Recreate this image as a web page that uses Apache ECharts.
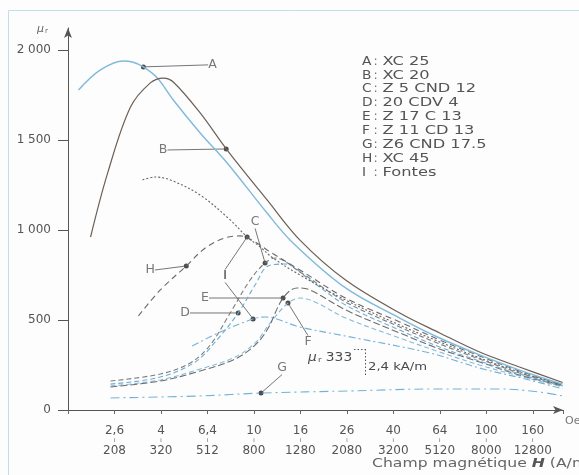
<!DOCTYPE html>
<html>
<head>
<meta charset="utf-8">
<script src="https://cdn.jsdelivr.net/npm/echarts@6/dist/echarts.min.js"></script>
<style>
  html, body { margin: 0; padding: 0; background: #fdfdfd; }
  #chart { width: 579px; height: 475px; }
</style>
</head>
<body>
<div id="chart"></div>
<script>
// Relative permeability μr of steels and cast irons versus magnetic field H.
// H is given in oersted on a log axis (base 1.6), with the A/m equivalent below.

const oeTicks = ['2,6', '4', '6,4', '10', '16', '26', '40', '64', '100', '160'];
const amTicks = ['208', '320', '512', '800', '1280', '2080', '3200', '5120', '8000', '12800'];
const muTicks = [0, 500, 1000, 1500, 2000];

// A : XC 25
const hA  = [1.78, 2.22, 2.80, 3.07, 3.43, 3.95, 4.64, 6.09, 8.00, 11.98, 15.57, 26.5, 45.8, 68.6, 102.7, 153.7, 238];
const muA = [1778, 1889, 1939, 1933, 1906, 1844, 1722, 1539, 1372, 1094, 928, 678, 511, 400, 306, 222, 144];
// B : XC 20
const hB  = [2.01, 2.39, 3.01, 3.68, 4.20, 4.64, 6.09, 8.00, 11.98, 16.7, 26.5, 45.8, 68.6, 102.7, 153.7, 238];
const muB = [961, 1317, 1683, 1817, 1844, 1822, 1650, 1444, 1167, 944, 722, 539, 428, 322, 239, 153];
// C : Z 5 CND 12
const hC  = [2.46, 4.07, 5.51, 6.74, 8.25, 10.09, 11.74, 12.99, 16.7, 26.5, 45.8, 68.6, 102.7, 153.7, 238];
const muC = [161, 200, 261, 361, 539, 722, 817, 844, 767, 600, 461, 367, 283, 206, 136];
// D : 20 CDV 4
const hD  = [2.46, 4.07, 5.80, 7.09, 8.94, 10.61, 12.10, 14.36, 18.48, 26.5, 45.8, 68.6, 102.7, 153.7, 238];
const muD = [144, 183, 267, 378, 539, 694, 800, 811, 722, 583, 444, 350, 272, 200, 134];
// E : Z 17 C 13
const hE  = [2.46, 4.07, 6.09, 8.50, 10.40, 11.98, 14.08, 16.21, 18.48, 26.5, 45.8, 68.6, 102.7, 153.7, 238];
const muE = [128, 161, 217, 278, 350, 444, 622, 678, 667, 556, 428, 339, 267, 194, 134];
// F : Z 11 CD 13
const hF  = [2.46, 4.07, 6.09, 8.50, 10.61, 12.35, 14.80, 16.7, 19.44, 26.5, 45.8, 68.6, 102.7, 153.7, 238];
const muF = [133, 167, 228, 289, 372, 483, 594, 622, 600, 511, 400, 322, 250, 189, 128];
// G : Z6 CND 17.5
const hG  = [2.46, 6.09, 11.27, 27.7, 68.6, 125.6, 188, 238];
const muG = [67, 78, 94, 106, 117, 117, 100, 78];
// H : XC 45
const hH  = [3.26, 4.07, 5.29, 6.41, 7.84, 9.12, 10.61, 12.35, 16.7, 26.5, 45.8, 68.6, 102.7, 153.7, 238];
const muH = [522, 667, 800, 900, 956, 967, 933, 878, 778, 622, 489, 389, 300, 217, 139];
// I : Fontes (upper and lower curves)
const hI1  = [3.40, 3.87, 4.50, 6.09, 8.25, 9.79, 11.16, 12.73, 16.7, 26.5, 45.8, 68.6, 102.7, 153.7, 238];
const muI1 = [1278, 1294, 1278, 1194, 1056, 961, 906, 844, 750, 611, 472, 378, 289, 211, 139];
const hI2  = [5.62, 7.46, 10.40, 11.74, 16.7, 27.7, 62.0, 102.7, 170, 238];
const muI2 = [356, 433, 506, 517, 461, 406, 317, 233, 167, 117];

// Reference dots carrying the curve letters
const markKey = ['A', 'B', 'C', 'D', 'E', 'F', 'G', 'H', 'I', 'I'];
const markH   = [3.43, 7.92, 11.74, 8.94, 14.08, 14.80, 11.27, 5.29, 9.79, 10.40];
const markMu  = [1906, 1450, 817, 539, 622, 594, 94, 800, 961, 506];

// Key
const keyLetters = ['A', 'B', 'C', 'D', 'E', 'F', 'G', 'H', 'I'];
const keyNames = ['XC 25', 'XC 20', 'Z 5 CND 12', '20 CDV 4', 'Z 17 C 13', 'Z 11 CD 13', 'Z6 CND 17.5', 'XC 45', 'Fontes'];

// ---- layout and styling ----
const FONT = 'DejaVu Sans';
const INK = '#4a4a4a';
const BLUE = '#74b2d6';
const labelShift = [[69, -2], [-63, 1], [-10, -41], [-53, 0], [-78, 0], [20, 39], [21, -25], [-36, 4], [-22, 39], [-28, -43]];

const pairs = (xs, ys) => xs.map((x, i) => [x, ys[i]]);

function curve(name, xs, ys, color, type, width) {
  return {
    name: name, type: 'line', data: pairs(xs, ys),
    smooth: 0.35, showSymbol: false, clip: false, silent: true,
    lineStyle: { color: color, width: width || 1.1, type: type }
  };
}

const LOG16 = Math.log(1.6);
function oeLabel(v) {
  const e = Math.log(v) / LOG16;
  const n = Math.round(e);
  if (Math.abs(e - n) > 0.02) return '';
  const i = n - 2;
  if (i < 0 || i >= oeTicks.length) return '';
  return '{a|' + oeTicks[i] + '}\n{t|ı}\n{b|' + amTicks[i] + '}';
}

function muLabel(v) {
  if (v === 0) return '0';
  const s = String(v);
  return s.length > 3 ? s.slice(0, s.length - 3) + ' ' + s.slice(-3) : s;
}

const graphics = [
  { type: 'rect', shape: { x: 8.5, y: 10.5, width: 575, height: 470 },
    style: { fill: 'none', stroke: '#bfe0e8', lineWidth: 1 }, silent: true },
  { type: 'text', x: 37, y: 23,
    style: { text: '{m|μ}{r|r}', rich: {
      m: { fontFamily: FONT, fontSize: 11, fontStyle: 'italic', fill: '#666' },
      r: { fontFamily: FONT, fontSize: 7, fill: '#666', padding: [5, 0, 0, 1] } } } },
  { type: 'text', x: 565, y: 416,
    style: { text: 'Oe', fontFamily: FONT, fontSize: 11, fill: '#777' } },
  { type: 'text', x: 372, y: 458, scaleX: 1.36,
    style: { text: 'Champ magnétique {h|H} (A/m)', fontFamily: FONT, fontSize: 11.5, fill: '#666',
      rich: { h: { fontFamily: FONT, fontSize: 11.5, fontStyle: 'italic', fontWeight: 'bold', fill: '#555' } } } },
  // field mark: μr 333 at 2,4 kA/m
  { type: 'text', x: 308, y: 352, scaleX: 1.2,
    style: { text: '{m|μ}{r|r} 333', fontFamily: FONT, fontSize: 11.5, fill: INK, rich: {
      m: { fontFamily: FONT, fontSize: 11.5, fontStyle: 'italic', fill: INK },
      r: { fontFamily: FONT, fontSize: 7, fill: INK, padding: [5, 0, 0, 1] } } } },
  { type: 'line', shape: { x1: 354, y1: 349.5, x2: 365, y2: 349.5 },
    style: { stroke: '#555', lineWidth: 1, lineDash: [1.5, 2] } },
  { type: 'line', shape: { x1: 365.5, y1: 349, x2: 365.5, y2: 377 },
    style: { stroke: '#555', lineWidth: 1, lineDash: [1.5, 2] } },
  { type: 'text', x: 368, y: 362, scaleX: 1.2,
    style: { text: '2,4 kA/m', fontFamily: FONT, fontSize: 11, fill: INK } }
];
keyLetters.forEach((k, i) => {
  const y = 55 + i * 13.85;
  graphics.push({ type: 'text', x: 362, y: y, scaleX: 1.1,
    style: { text: k, fontFamily: FONT, fontSize: 12.5, fill: '#555' } });
  graphics.push({ type: 'text', x: 373.5, y: y,
    style: { text: ':', fontFamily: FONT, fontSize: 12.5, fill: '#777' } });
  graphics.push({ type: 'text', x: 382.5, y: y, scaleX: 1.3,
    style: { text: keyNames[i], fontFamily: FONT, fontSize: 12.5, fill: '#555' } });
});

const chart = echarts.init(document.getElementById('chart'), null, { renderer: 'canvas' });
chart.setOption({
  animation: false,
  backgroundColor: '#fdfdfd',
  grid: { left: 68, right: 16, top: 28, bottom: 65 },
  xAxis: {
    type: 'log', logBase: 1.6, min: 1.6, max: 238.8, interval: 1,
    axisLine: { symbol: ['none', 'arrow'], symbolSize: [6, 10], lineStyle: { color: '#555', width: 1 } },
    axisTick: { show: true, length: 4, lineStyle: { color: '#666' } },
    minorTick: { show: false },
    splitLine: { show: false },
    axisLabel: {
      margin: 14, formatter: oeLabel, fontFamily: FONT,
      rich: {
        a: { fontFamily: FONT, fontSize: 12, color: '#555', lineHeight: 13, align: 'center' },
        t: { fontFamily: FONT, fontSize: 7, color: '#777', lineHeight: 7, align: 'center' },
        b: { fontFamily: FONT, fontSize: 12, color: '#555', lineHeight: 13, align: 'center' }
      }
    }
  },
  yAxis: {
    type: 'value', min: 0, max: 2122, interval: 500,
    axisLine: { show: true, symbol: ['none', 'arrow'], symbolSize: [6, 10], lineStyle: { color: '#555', width: 1 } },
    axisTick: { show: true, length: 10, customValues: muTicks, lineStyle: { color: '#555' } },
    splitLine: { show: false },
    axisLabel: { customValues: muTicks, formatter: muLabel, margin: 17, fontFamily: FONT, fontSize: 12, color: '#555' }
  },
  graphic: graphics,
  series: [
    curve('I', hI2, muI2, BLUE, [7, 3, 2, 3], 1.1),
    curve('G', hG, muG, BLUE, [9, 4, 2, 4], 1.1),
    curve('F', hF, muF, '#86bbdb', [5, 3], 1.1),
    curve('E', hE, muE, '#6d6d6d', [7, 3], 1.1),
    curve('D', hD, muD, '#6fadd3', [5, 3], 1.1),
    curve('C', hC, muC, '#7c7c7c', [5, 3], 1.1),
    curve('H', hH, muH, '#6a6a6a', [6, 4], 1.1),
    curve('I', hI1, muI1, '#666', [2, 2], 1.1),
    curve('A', hA, muA, '#7fbadb', 'solid', 1.4),
    curve('B', hB, muB, '#6c5f56', 'solid', 1.2),
    {
      name: 'repères', type: 'scatter', data: pairs(markH, markMu), clip: false, silent: true,
      symbolSize: 5, itemStyle: { color: '#222' },
      label: {
        show: true, position: 'inside', formatter: p => markKey[p.dataIndex],
        fontFamily: FONT, fontSize: 12.5, color: '#555'
      },
      labelLine: { show: true, lineStyle: { color: '#666', width: 0.9 } },
      labelLayout: p => ({ dx: labelShift[p.dataIndex][0], dy: labelShift[p.dataIndex][1] })
    }
  ]
});
</script>
</body>
</html>
